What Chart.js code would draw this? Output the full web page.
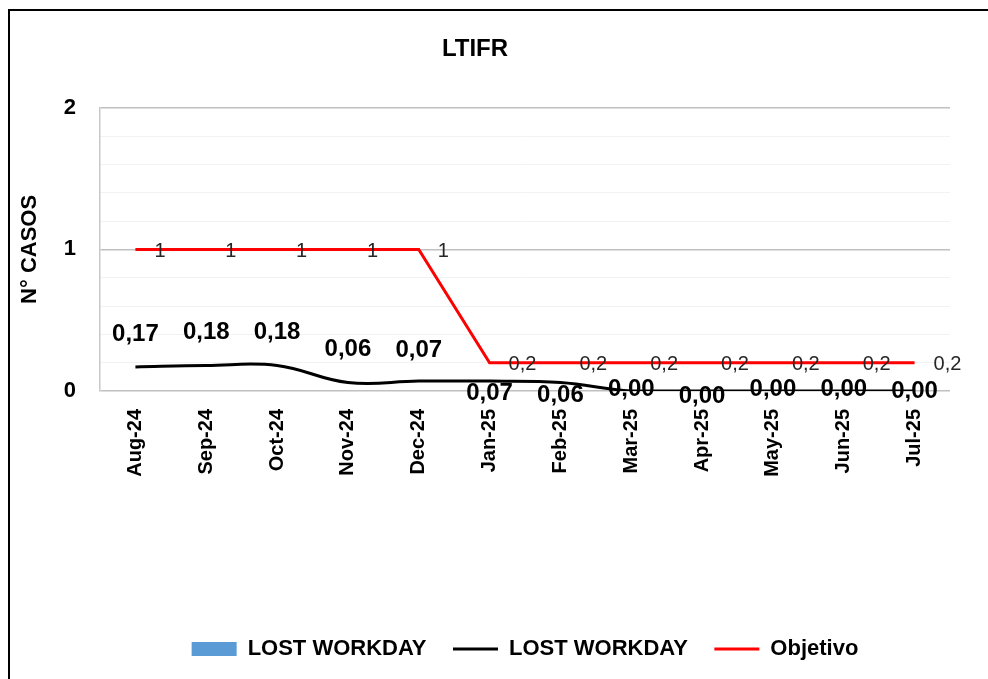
<!DOCTYPE html>
<html>
<head>
<meta charset="utf-8">
<script src="https://cdn.jsdelivr.net/npm/chart.js@4"></script>
<style>
  html, body { margin: 0; padding: 0; background: #fff; overflow: hidden; }
  #frame { position: absolute; left: 8px; top: 9px; width: 1000px; height: 700px; border: 2px solid #000; }
  #chartLtifr { position: absolute; left: 0; top: 0; }
</style>
</head>
<body>
<div id="frame"></div>
<canvas id="chartLtifr" width="988" height="679"></canvas>
<script>
const months = ['Aug-24', 'Sep-24', 'Oct-24', 'Nov-24', 'Dec-24', 'Jan-25', 'Feb-25', 'Mar-25', 'Apr-25', 'May-25', 'Jun-25', 'Jul-25'];
const lostWorkdayBars = [0, 0, 0, 0, 0, 0, 0, 0, 0, 0, 0, 0];
const ltifr = [0.17, 0.18, 0.18, 0.06, 0.07, 0.07, 0.06, 0, 0, 0, 0, 0];
const objetivo = [1, 1, 1, 1, 1, 0.2, 0.2, 0.2, 0.2, 0.2, 0.2, 0.2];

const FONT = "'Liberation Sans', Arial, sans-serif";

// value labels: black series above/below its points, target series to the right
const valueLabels = {
    id: 'valueLabels',
    labelDy: [-33, -33, -33, -33, -31, 12, 13, -2, 5, -2, -2, 0],
    afterDatasetsDraw(chart) {
        const ctx = chart.ctx;
        ctx.save();
        ctx.textBaseline = 'middle';

        const red = chart.getDatasetMeta(2);
        ctx.font = '20px ' + FONT;
        ctx.fillStyle = '#262626';
        ctx.textAlign = 'left';
        red.data.forEach((pt, i) => {
            ctx.fillText(String(objetivo[i]).replace('.', ','), pt.x + 19, pt.y + 2);
        });

        const black = chart.getDatasetMeta(1);
        ctx.font = 'bold 24px ' + FONT;
        ctx.fillStyle = '#000';
        ctx.textAlign = 'center';
        black.data.forEach((pt, i) => {
            ctx.fillText(ltifr[i].toFixed(2).replace('.', ','), pt.x, pt.y + this.labelDy[i]);
        });
        ctx.restore();
    }
};

const isWhole = v => Math.abs(v - Math.round(v)) < 1e-6;

new Chart(document.getElementById('chartLtifr'), {
    data: {
        labels: months,
        datasets: [
            { type: 'bar', label: 'LOST WORKDAY', data: lostWorkdayBars, backgroundColor: '#5B9BD5', pointStyle: 'rect', order: 3 },
            { type: 'line', label: 'LOST WORKDAY', data: ltifr, borderColor: '#000', backgroundColor: '#000', borderWidth: 3, tension: 0.4, pointRadius: 0, pointStyle: 'line', order: 2 },
            { type: 'line', label: 'Objetivo', data: objetivo, borderColor: '#FF0000', backgroundColor: '#FF0000', borderWidth: 3, tension: 0, pointRadius: 0, pointStyle: 'line', order: 1 }
        ]
    },
    options: {
        responsive: false,
        animation: false,
        layout: { padding: { left: 0, right: 38, top: 0, bottom: 9 } },
        plugins: {
            title: {
                display: true,
                text: 'LTIFR',
                color: '#000',
                font: { family: FONT, size: 24, weight: 'bold' },
                padding: { top: 35, bottom: 44 }
            },
            legend: {
                position: 'bottom',
                fullSize: false,
                labels: {
                    color: '#000',
                    font: { family: FONT, size: 22, weight: 'bold' },
                    usePointStyle: true,
                    pointStyleWidth: 45,
                    boxHeight: 14,
                    padding: 26.5,
                    sort: (a, b) => a.datasetIndex - b.datasetIndex
                }
            },
            tooltip: { enabled: false }
        },
        scales: {
            x: {
                grid: { display: false },
                border: { display: false },
                ticks: {
                    color: '#000',
                    font: { family: FONT, size: 20, weight: 'bold' },
                    minRotation: 90,
                    maxRotation: 90,
                    padding: 10
                },
                afterFit: s => { s.height = 220.5; }
            },
            y: {
                min: 0,
                max: 2,
                border: { color: '#c8c8c8', width: 1.5 },
                grid: {
                    drawTicks: false,
                    color: c => isWhole(c.tick.value) ? '#c0c0c0' : '#f2f2f2',
                    lineWidth: c => isWhole(c.tick.value) ? 1.5 : 1
                },
                ticks: {
                    stepSize: 0.2,
                    autoSkip: false,
                    color: '#000',
                    padding: 24,
                    font: { family: FONT, size: 22, weight: 'bold' },
                    callback: v => isWhole(v) ? String(Math.round(v)) : ''
                },
                title: {
                    display: true,
                    text: 'N° CASOS',
                    color: '#000',
                    font: { family: FONT, size: 22, weight: 'bold' },
                    padding: { top: 17 }
                },
                afterFit: s => { s.width = 100; }
            }
        }
    },
    plugins: [valueLabels]
});
</script>
</body>
</html>
